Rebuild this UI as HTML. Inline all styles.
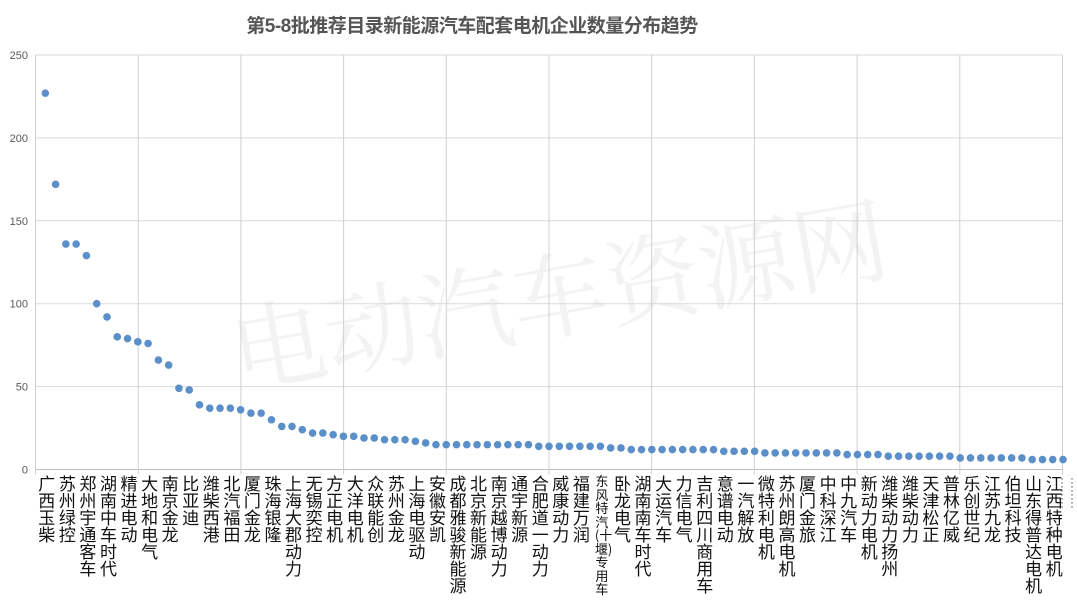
<!DOCTYPE html>
<html><head><meta charset="utf-8">
<style>
html,body{margin:0;padding:0;background:#fff;}
#wrap{position:relative;width:1077px;height:604px;overflow:hidden;background:#fff;font-family:"Liberation Sans","Noto Sans CJK SC",sans-serif;}
.title{position:absolute;left:0;top:11px;width:944px;text-align:center;font-size:19px;font-weight:bold;color:#555;letter-spacing:-0.5px;}
.lbl{position:absolute;top:474px;width:18px;font-size:17px;line-height:17px;color:#111;text-align:center;word-break:break-all;font-family:"Noto Sans CJK SC","WenQuanYi Zen Hei",sans-serif;}
.lbl.small{font-size:13px;line-height:13.5px;width:14px;}
.dots{position:absolute;top:476px;font-size:12px;line-height:4px;color:#444;width:6px;text-align:center;}
</style></head>
<body>
<div id="wrap">
<div class="title">第5-8批推荐目录新能源汽车配套电机企业数量分布趋势</div>
<svg id="chart" width="1077" height="604" style="position:absolute;left:0;top:0">
  <text x="560" y="330" font-size="95" fill="#f3f3f3" text-anchor="middle" transform="rotate(-10 560 300)" font-family="Noto Serif CJK SC, serif">电动汽车资源网</text>
  <g id="grid"></g><g id="yticks"></g><g id="points"></g>
</svg>
<div id="labels"></div>
<div class="dots" style="left:1059px">·<br>·<br>·<br>·<br>·<br>·<br>·<br>·</div>
<div class="dots" style="left:1069px">·<br>·<br>·<br>·<br>·<br>·<br>·<br>·</div>
</div>
<script>
const values = [227,172,136,136,129,100,92,80,79,77,76,66,63,49,48,39,37,37,37,36,34,34,30,26,26,24,22,22,21,20,20,19,19,18,18,18,17,16,15,15,15,15,15,15,15,15,15,15,14,14,14,14,14,14,14,13,13,12,12,12,12,12,12,12,12,12,11,11,11,11,10,10,10,10,10,10,10,10,9,9,9,9,8,8,8,8,8,8,8,7,7,7,7,7,7,7,6,6,6,6];
const categories = ["广西玉柴","苏州绿控","郑州宇通客车","湖南中车时代","精进电动","大地和电气","南京金龙","比亚迪","潍柴西港","北汽福田","厦门金龙","珠海银隆","上海大郡动力","无锡奕控","方正电机","大洋电机","众联能创","苏州金龙","上海电驱动","安徽安凯","成都雅骏新能源","北京新能源","南京越博动力","通宇新源","合肥道一动力","威康动力","福建万润","东风特汽(十堰)专用车","卧龙电气","湖南南车时代","大运汽车","力信电气","吉利四川商用车","意谱电动","一汽解放","微特利电机","苏州朗高电机","厦门金旅","中科深江","中九汽车","新动力电机","潍柴动力扬州","潍柴动力","天津松正","普林亿威","乐创世纪","江苏九龙","伯坦科技","山东得普达电机","江西特种电机"];
const yTicks = [0,50,100,150,200,250];
const NS="http://www.w3.org/2000/svg";
const yMin=0,yMax=250,yTop=55,yBot=469.5;
function y(v){return yBot-(v-yMin)/(yMax-yMin)*(yBot-yTop);}
function x(i){return 45.3+i*10.28;}
const left=35.5,right=1062.5;
const grid=document.getElementById('grid');
yTicks.forEach(t=>{
  const l=document.createElementNS(NS,'line');
  l.setAttribute('x1',left);l.setAttribute('x2',right);
  l.setAttribute('y1',y(t));l.setAttribute('y2',y(t));
  l.setAttribute('stroke',t===0?'#bfbfbf':'#d9d9d9');l.setAttribute('stroke-width','1');
  
  
  grid.appendChild(l);
  const tx=document.createElementNS(NS,'text');
  tx.setAttribute('x',28);tx.setAttribute('y',y(t)+4);
  tx.setAttribute('text-anchor','end');tx.setAttribute('font-size','11');tx.setAttribute('fill','#595959');
  tx.textContent=t;
  
  
  document.getElementById('yticks').appendChild(tx);
});
for(let k=0;k<=10;k++){
  const gx=left+k*(right-left)/10;
  const l=document.createElementNS(NS,'line');
  l.setAttribute('x1',gx);l.setAttribute('x2',gx);
  l.setAttribute('y1',yTop);l.setAttribute('y2',yBot+5);
  l.setAttribute('stroke','#d0d0d0');l.setAttribute('stroke-width','1');
  
  
  grid.appendChild(l);
}
const pg=document.getElementById('points');
values.forEach((v,i)=>{
  const c=document.createElementNS(NS,'circle');
  c.setAttribute('cx',x(i));c.setAttribute('cy',y(v));c.setAttribute('r','3.8');
  c.setAttribute('fill','#5b8fc9');
  
  
  pg.appendChild(c);
});
const lw=document.getElementById('labels');
categories.forEach((c,i)=>{
  const d=document.createElement('div');
  d.className='lbl'+(c.length>8?' small':'');
  const cx=x(i*2)+1.5;
  d.style.left=(cx-(c.length>8?7:9))+'px';
  d.textContent=c;
  
  
  lw.appendChild(d);
});
</script>
</body></html>
